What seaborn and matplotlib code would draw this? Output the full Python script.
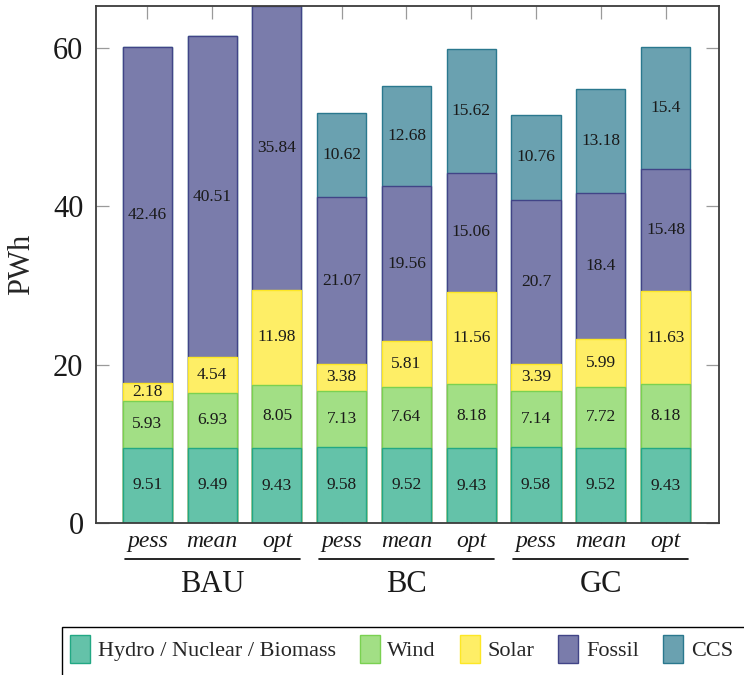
import numpy as np
import pandas as pd
import matplotlib
matplotlib.use("Agg")
import matplotlib.pyplot as plt
import matplotlib.transforms as mtransforms
from matplotlib.patches import Patch, Rectangle
from matplotlib.lines import Line2D
import seaborn as sns

# Electricity generation by source (PWh) per scenario and case
scenarios = ["BAU", "BC", "GC"]
cases = ["pess", "mean", "opt"]
sources = ["Hydro / Nuclear / Biomass", "Wind", "Solar", "Fossil", "CCS"]

hydro = [9.51, 9.49, 9.43, 9.58, 9.52, 9.43, 9.58, 9.52, 9.43]
wind = [5.93, 6.93, 8.05, 7.13, 7.64, 8.18, 7.14, 7.72, 8.18]
solar = [2.18, 4.54, 11.98, 3.38, 5.81, 11.56, 3.39, 5.99, 11.63]
fossil = [42.46, 40.51, 35.84, 21.07, 19.56, 15.06, 20.70, 18.40, 15.48]
ccs = [0.0, 0.0, 0.0, 10.62, 12.68, 15.62, 10.76, 13.18, 15.40]

edge_colors = ["#22a884", "#7ad151", "#fde725", "#414487", "#2a788e"]


def tint(hex_color, amount=0.7):
    rgb = np.array(matplotlib.colors.to_rgb(hex_color))
    return tuple(rgb * amount + (1 - amount))


fill_colors = [tint(c) for c in edge_colors]

bar_names = [f"{s} {c}" for s in scenarios for c in cases]
layers = np.array([hydro, wind, solar, fossil, ccs])
tops = np.cumsum(layers, axis=0)

df = pd.DataFrame({"bar": bar_names})
for name, top in zip(sources, tops):
    df[name] = top

sns.set_theme(style="white")
plt.rcParams["font.family"] = ["Liberation Serif", "DejaVu Serif"]

fig = plt.figure(figsize=(7.44, 6.75), dpi=100)
ax = fig.add_axes([96 / 744, 1 - 523 / 675, (719 - 96) / 744, (523 - 6) / 675])

# stacked bars: draw the cumulative totals from the top layer down
for i in range(len(sources) - 1, -1, -1):
    sns.barplot(data=df, x="bar", y=sources[i], order=bar_names,
                color=fill_colors[i], edgecolor=edge_colors[i], linewidth=1.0,
                saturation=1, width=0.757, errorbar=None, ax=ax)

# segment value labels
for i in range(len(sources)):
    for j in range(len(bar_names)):
        v = layers[i, j]
        if v <= 0:
            continue
        mid = tops[i, j] - v / 2
        ax.text(j, mid, f"{v:g}", ha="center", va="center",
                fontsize=12.5, color="#1a1a1a")

ax.set_xlim(-0.795, 8.826)
ax.set_ylim(0, 65.3)
ax.set_yticks([0, 20, 40, 60])
ax.set_xticks(range(len(bar_names)))
ax.set_xticklabels(cases * len(scenarios), fontstyle="italic", fontsize=17)
ax.set_xlabel("")
ax.set_ylabel("PWh", fontsize=22, labelpad=12)

for lbl in ax.get_yticklabels():
    lbl.set_fontsize(22)

ax.tick_params(axis="both", which="major", direction="in", length=9.5,
               width=0.9, color="#9a9a9a", top=True, right=True,
               bottom=True, left=True)
ax.tick_params(axis="y", pad=9, labelcolor="#1a1a1a")
ax.tick_params(axis="x", pad=6, labelcolor="#1a1a1a")

for sp in ax.spines.values():
    sp.set_visible(True)
    sp.set_color("#3c3c3c")
    sp.set_linewidth(1.3)

# scenario group brackets and names under the case labels
trans = mtransforms.blended_transform_factory(ax.transData, ax.transAxes)
for k, scen in enumerate(scenarios):
    x0 = 3 * k - 0.35
    x1 = 3 * k + 2 + 0.35
    ax.add_line(Line2D([x0, x1], [-0.0696, -0.0696], transform=trans,
                       color="black", lw=1.2, clip_on=False))
    ax.text(3 * k + 1, -0.1335, scen, transform=trans, ha="center",
            va="baseline", fontsize=22, color="#1a1a1a")

# legend box running off the lower right of the canvas
fig.patches.append(Rectangle((62 / 744, -20 / 675), 720 / 744, 68 / 675,
                             transform=fig.transFigure, facecolor="white",
                             edgecolor="black", linewidth=1.0, zorder=0))

handles = [Patch(facecolor=f, edgecolor=e, linewidth=1.0)
           for f, e in zip(fill_colors, edge_colors)]
leg = fig.legend(handles, sources, loc="upper left",
                 bbox_to_anchor=(62 / 744, 1 - 627 / 675), ncol=5,
                 frameon=False, fontsize=16, handlelength=0.9,
                 handleheight=1.6, handletextpad=0.35, columnspacing=1.08,
                 borderpad=0.35, borderaxespad=0)

fig.savefig("out.png", dpi=100)
